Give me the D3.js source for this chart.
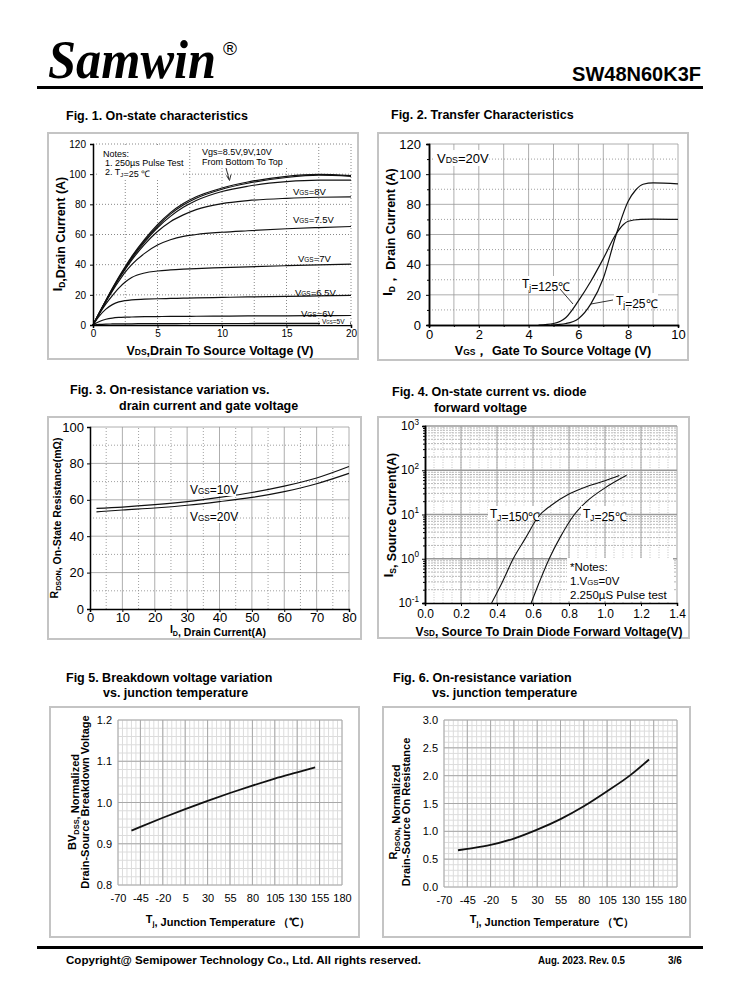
<!DOCTYPE html>
<html>
<head>
    <script src="https://cdnjs.cloudflare.com/ajax/libs/d3/7.8.5/d3.min.js"></script>
    <style>
        body, html { margin: 0; padding: 0; background: #fff; }
        svg { display: block; font-family: "Liberation Sans", Arial, sans-serif; }
    </style>
</head>
<body>
<svg id="page" width="738" height="1000"></svg>
<script>
// ---- data ----
// Fig 1: Vds (V) vs Id (A), one array per gate voltage
const fig1Vds = [0, 0.5, 1, 1.5, 2, 2.5, 3, 4, 5, 6, 7, 8, 10, 12, 15, 17.5, 20];
const fig1Vgs5   = [0, 0.4, 0.6, 0.7, 0.8, 0.8, 0.8, 0.9, 0.9, 0.9, 1, 1, 1, 1, 1.1, 1.1, 1.2];
const fig1Vgs6   = [0, 2.3, 3.8, 4.6, 5.0, 5.2, 5.3, 5.5, 5.6, 5.7, 5.7, 5.8, 5.9, 6.0, 6.1, 6.2, 6.3];
const fig1Vgs65  = [0, 6, 10.5, 13.5, 15.3, 16.2, 16.7, 17.1, 17.4, 17.6, 17.8, 18.0, 18.3, 18.6, 19.0, 19.3, 19.6];
const fig1Vgs7   = [0, 7.5, 14, 19.5, 24.5, 28.5, 31.5, 34.5, 35.8, 36.5, 37, 37.4, 38, 38.6, 39.3, 39.8, 40.3];
const fig1Vgs75  = [0, 8, 15.5, 22.5, 29, 35, 40, 47.5, 53, 56.5, 58.8, 60, 61.5, 62.5, 63.8, 64.6, 65.3];
const fig1Vgs8   = [0, 8, 15.8, 23.3, 30.5, 37, 43, 53.5, 62, 68.5, 73, 76.5, 80.5, 82.5, 84, 84.7, 85];
const fig1Vgs85  = [0, 8.2, 16, 23.5, 30.8, 37.5, 44, 55, 64.5, 72, 78, 82.5, 88.5, 92, 95, 96, 96];
const fig1Vgs9   = [0, 8.2, 16.2, 24, 31.3, 38.2, 44.8, 56, 65.5, 73.5, 79.5, 84, 90, 94, 97.8, 99.3, 98.6];
const fig1Vgs10  = [0, 8.3, 16.4, 24.3, 31.8, 38.8, 45.4, 56.8, 66.5, 74.5, 80.5, 85, 90.8, 94.8, 98.6, 99.8, 99.0];
const fig1Labels = ["=8V", "=7.5V", "=7V", "=6.5V", "=6V", "=5V"];

// Fig 2: Vgs (V) vs Id (A)
const fig2Vgs125 = [4.4, 5, 5.5, 6, 6.5, 7, 7.5, 7.8, 8, 8.5, 9, 10];
const fig2Id125  = [0, 1, 5, 16, 29, 44, 60, 66.5, 68.8, 70, 70.2, 70];
const fig2Vgs25  = [4.9, 5.5, 6, 6.5, 7, 7.5, 8, 8.3, 8.6, 9, 10];
const fig2Id25   = [0, 1, 4.2, 14, 31, 59, 82, 89.5, 93.3, 94.2, 93.6];

// Fig 3: Id (A) vs Rds(on) (mOhm)
const fig3Id     = [2, 10, 20, 30, 40, 50, 60, 70, 80];
const fig3Vgs10  = [55.3, 56, 57.3, 59, 61.3, 64, 67.5, 72, 78.3];
const fig3Vgs20  = [53.4, 54.4, 55.5, 57, 59, 61.3, 64.5, 68.8, 74.5];

// Fig 4: Vsd (V) vs Is (A), log scale
const fig4Vsd150 = [0.37, 0.43, 0.49, 0.56, 0.63, 0.7, 0.8, 0.9, 1.0, 1.08];
const fig4Is150  = [0.1, 0.3, 1, 3, 9, 16, 29, 43, 58, 76];
const fig4Vsd25  = [0.59, 0.64, 0.69, 0.75, 0.83, 0.9, 1.0, 1.12];
const fig4Is25   = [0.1, 0.33, 1, 3, 10, 20, 40, 77];
const fig4YTicks = [-1, 0, 1, 2, 3];

// Fig 5 & 6: junction temperature (C)
const tjTicks    = [-70, -45, -20, 5, 30, 55, 80, 105, 130, 155, 180];
const fig5Tj     = [-55, -45, -20, 5, 30, 55, 80, 105, 130, 150];
const fig5Bv     = [0.932, 0.941, 0.963, 0.984, 1.004, 1.023, 1.041, 1.058, 1.073, 1.085];
const fig6Tj     = [-55, -45, -20, 5, 30, 55, 80, 105, 130, 150];
const fig6Rds    = [0.66, 0.685, 0.755, 0.87, 1.03, 1.22, 1.45, 1.72, 2.01, 2.29];

// ---- page ----
const svg = d3.select("#page");
const FONT = "'Liberation Sans', Arial, sans-serif";

// write text made of parts: [text, kind] kind: null | "sc" (small) | "sub" | "sup"
function rich(sel, parts, size) {
    parts.forEach(p => {
        const t = sel.append("tspan").text(p[0]);
        if (p[1] === "sc") t.attr("font-size", size * 0.68);
        if (p[1] === "sub") t.attr("font-size", size * 0.68).attr("dy", size * 0.25);
        if (p[1] === "sup") t.attr("font-size", size * 0.68).attr("dy", -size * 0.45);
        // reset baseline after shifted piece
        if (p[1] === "sub") sel.append("tspan").attr("dy", -size * 0.25).text("");
        if (p[1] === "sup") sel.append("tspan").attr("dy", size * 0.45).text("");
    });
    return sel;
}

function txt(x, y, parts, size, opts = {}) {
    const t = svg.append("text")
        .attr("x", x).attr("y", y)
        .attr("font-size", size)
        .attr("font-family", FONT)
        .attr("text-anchor", opts.anchor || "start")
        .attr("font-weight", opts.bold ? "bold" : "normal");
    if (opts.rotate) t.attr("transform", `rotate(-90,${x},${y})`);
    if (typeof parts === "string") t.text(parts); else rich(t, parts, size);
    return t;
}

function frame(x, y, w, h) {
    svg.append("rect").attr("x", x).attr("y", y).attr("width", w).attr("height", h)
        .attr("fill", "none").attr("stroke", "#c4c4c4").attr("stroke-width", 2);
}

function gridV(xs, values, y0, y1, color, dash, width) {
    svg.append("g").selectAll("line").data(values).join("line")
        .attr("x1", d => xs(d)).attr("x2", d => xs(d))
        .attr("y1", y0).attr("y2", y1)
        .attr("stroke", color).attr("stroke-width", width || 1)
        .attr("stroke-dasharray", dash || null);
}
function gridH(ys, values, x0, x1, color, dash, width) {
    svg.append("g").selectAll("line").data(values).join("line")
        .attr("y1", d => ys(d)).attr("y2", d => ys(d))
        .attr("x1", x0).attr("x2", x1)
        .attr("stroke", color).attr("stroke-width", width || 1)
        .attr("stroke-dasharray", dash || null);
}

function curve(xs, ys, xv, yv, width) {
    const pts = xv.map((v, i) => [v, yv[i]]);
    svg.append("path").datum(pts)
        .attr("fill", "none").attr("stroke", "#111").attr("stroke-width", width || 1.3)
        .attr("d", d3.line().x(d => xs(d[0])).y(d => ys(d[1])).curve(d3.curveMonotoneX));
}

function axisStyle(g, size) {
    g.selectAll("text").attr("font-size", size).attr("font-family", FONT).attr("fill", "#000");
    g.selectAll("line").attr("stroke", "#000");
    g.select(".domain").attr("stroke", "#000").attr("stroke-width", 1.5);
}

function whiteBox(x, y, w, h) {
    svg.append("rect").attr("x", x).attr("y", y).attr("width", w).attr("height", h).attr("fill", "#fff");
}

// ---- header ----
svg.append("text").attr("x", 48).attr("y", 78)
    .attr("font-family", "'Liberation Serif', 'Times New Roman', serif")
    .attr("font-weight", "bold").attr("font-style", "italic")
    .attr("font-size", 54).attr("textLength", 168).attr("lengthAdjust", "spacingAndGlyphs")
    .text("Samwin");
txt(223, 55, "®", 19, {});
txt(701, 81, "SW48N60K3F", 20, { anchor: "end", bold: true });
svg.append("rect").attr("x", 37).attr("y", 86).attr("width", 666).attr("height", 3).attr("fill", "#000");

// ---- Fig 1 ----
{
    frame(48, 133, 310, 226);
    const x = d3.scaleLinear().domain([0, 20]).range([93, 351]);
    const y = d3.scaleLinear().domain([0, 120]).range([325, 144]);
    gridV(x, d3.range(2.5, 20.1, 2.5), y(0), y(120), "#888", "1,2");
    gridH(y, d3.range(20, 121, 20), x(0), x(20), "#888", "1,2");
    whiteBox(99, 147, 82, 33);
    whiteBox(199, 146, 92, 22);
    [fig1Vgs5, fig1Vgs6, fig1Vgs65, fig1Vgs7, fig1Vgs75, fig1Vgs8, fig1Vgs85, fig1Vgs9, fig1Vgs10]
        .forEach(s => curve(x, y, fig1Vds, s, 1.2));
    const gy = svg.append("g").attr("transform", `translate(${x(0)},0)`)
        .call(d3.axisLeft(y).tickValues(d3.range(0, 121, 20)).tickSize(3).tickPadding(4));
    axisStyle(gy, 10);
    const gx = svg.append("g").attr("transform", `translate(0,${y(0)})`)
        .call(d3.axisBottom(x).tickValues(d3.range(0, 21, 5)).tickSize(3).tickPadding(2));
    axisStyle(gx, 10);
    txt(66, 120, "Fig. 1. On-state characteristics", 12.5, { bold: true });
    txt(103, 157, "Notes:", 9);
    txt(105, 166, "1. 250\u00b5s  Pulse Test", 9);
    txt(105, 175, [["2. T"], ["J", "sub"], ["=25 \u2103"]], 9);
    txt(202, 155, "Vgs=8.5V,9V,10V", 9);
    txt(202, 165, "From Bottom To Top", 9);
    svg.append("line").attr("x1", 226).attr("y1", 168).attr("x2", 229).attr("y2", 179)
        .attr("stroke", "#000").attr("stroke-width", 0.8);
    svg.append("path").attr("d", "M226.5,175.5 L229.5,180.5 L231,174.5").attr("fill", "none")
        .attr("stroke", "#000").attr("stroke-width", 0.8);
    const lblPos = [[293, 195], [293, 223], [298, 262], [295, 296], [301, 317], [322, 324]];
    fig1Labels.forEach((l, i) => {
        const sz = i === 5 ? 6.5 : 9.5;
        if (i === 5) whiteBox(320, 317, 30, 8);
        txt(lblPos[i][0], lblPos[i][1], [["V"], ["GS", "sc"], [l]], sz);
    });
    txt(62, 234, [["I"], ["D", "sub"], [",Drain Current (A)"]], 12.5, { bold: true, rotate: true, anchor: "middle" });
    txt(220, 355, [["V"], ["DS", "sc"], [",Drain To Source Voltage (V)"]], 12.5, { bold: true, anchor: "middle" });
}

// ---- Fig 2 ----
{
    frame(378, 133, 310, 227);
    const x = d3.scaleLinear().domain([0, 10]).range([429, 678]);
    const y = d3.scaleLinear().domain([0, 120]).range([325, 144]);
    gridV(x, d3.range(1, 10.1, 1), y(0), y(120), "#999", null, 0.8);
    gridH(y, d3.range(20, 121, 20), x(0), x(10), "#999", null, 0.8);
    gridH(y, d3.range(10, 120, 20), x(0), x(10), "#888", "1,2", 0.8);
    whiteBox(433, 150, 56, 16);
    curve(x, y, fig2Vgs125, fig2Id125, 1.2);
    curve(x, y, fig2Vgs25, fig2Id25, 1.2);
    const gy = svg.append("g").attr("transform", `translate(${x(0)},0)`)
        .call(d3.axisLeft(y).tickValues(d3.range(0, 121, 20)).tickSize(3).tickPadding(5));
    axisStyle(gy, 13);
    svg.append("g").attr("transform", `translate(${x(0)},0)`)
        .call(d3.axisLeft(y).tickValues(d3.range(10, 120, 20)).tickSize(2).tickFormat(""))
        .call(g => axisStyle(g, 13));
    const gx = svg.append("g").attr("transform", `translate(0,${y(0)})`)
        .call(d3.axisBottom(x).tickValues(d3.range(0, 11, 2)).tickSize(3).tickPadding(2));
    axisStyle(gx, 13);
    svg.append("g").attr("transform", `translate(0,${y(0)})`)
        .call(d3.axisBottom(x).tickValues(d3.range(1, 10, 2)).tickSize(2).tickFormat(""))
        .call(g => axisStyle(g, 13));
    txt(391, 119, "Fig. 2. Transfer Characteristics", 12.5, { bold: true });
    txt(437, 163, [["V"], ["DS", "sc"], ["=20V"]], 13);
    whiteBox(520, 276, 50, 14);
    txt(522, 288, [["T"], ["j", "sub"], ["=125\u2103"]], 12);
    svg.append("line").attr("x1", 560).attr("y1", 289).attr("x2", 573).attr("y2", 304).attr("stroke", "#000").attr("stroke-width", 0.8);
    whiteBox(614, 293, 44, 14);
    txt(616, 305, [["T"], ["j", "sub"], ["=25\u2103"]], 12);
    svg.append("line").attr("x1", 613).attr("y1", 300).attr("x2", 591).attr("y2", 304).attr("stroke", "#000").attr("stroke-width", 0.8);
    txt(392, 232, [["I"], ["D", "sub"], ["\uff0c Drain Current (A)"]], 12.5, { bold: true, rotate: true, anchor: "middle" });
    txt(553, 355, [["V"], ["GS", "sc"], ["\uff0c Gate To Source Voltage (V)"]], 12.5, { bold: true, anchor: "middle" });
}

// ---- Fig 3 ----
{
    frame(48, 417, 313, 222);
    const x = d3.scaleLinear().domain([0, 80]).range([90, 349]);
    const y = d3.scaleLinear().domain([0, 100]).range([609, 427]);
    gridV(x, d3.range(10, 81, 10), y(0), y(100), "#999", null, 0.8);
    gridV(x, d3.range(5, 80, 10), y(0), y(100), "#888", "1,2", 0.8);
    gridH(y, d3.range(20, 101, 20), x(0), x(80), "#999", null, 0.8);
    gridH(y, d3.range(10, 100, 20), x(0), x(80), "#888", "1,2", 0.8);
    curve(x, y, fig3Id, fig3Vgs10, 1.2);
    curve(x, y, fig3Id, fig3Vgs20, 1.2);
    const gy = svg.append("g").attr("transform", `translate(${x(0)},0)`)
        .call(d3.axisLeft(y).tickValues(d3.range(0, 101, 20)).tickSize(3).tickPadding(3));
    axisStyle(gy, 13);
    const gx = svg.append("g").attr("transform", `translate(0,${y(0)})`)
        .call(d3.axisBottom(x).tickValues(d3.range(0, 81, 10)).tickSize(3).tickPadding(1));
    axisStyle(gx, 13);
    txt(70, 394, "Fig. 3. On-resistance variation vs.", 12.5, { bold: true });
    txt(119, 410, "drain current and gate voltage", 12.5, { bold: true });
    whiteBox(188, 483, 48, 13);
    txt(190, 494, [["V"], ["GS", "sc"], ["=10V"]], 12);
    whiteBox(188, 510, 48, 13);
    txt(190, 521, [["V"], ["GS", "sc"], ["=20V"]], 12);
    txt(58, 518, [["R"], ["DSON", "sub"], [", On-State Resistance(m\u03a9)"]], 10.5, { bold: true, rotate: true, anchor: "middle" });
    txt(218, 633, [["I"], ["D", "sub"], [", Drain Current(A)"]], 10.5, { bold: true, anchor: "middle" });
}

// ---- Fig 4 ----
{
    frame(378, 417, 311, 221);
    const x = d3.scaleLinear().domain([0, 1.4]).range([425, 677]);
    const y = d3.scaleLog().domain([0.1, 1000]).range([603, 426]);
    const minors = [];
    fig4YTicks.slice(0, -1).forEach(e => d3.range(2, 10).forEach(m => minors.push(m * Math.pow(10, e))));
    gridH(y, minors, x(0), x(1.4), "#999", "2,1", 0.7);
    gridV(x, d3.range(0.05, 1.4, 0.05), y(0.1), y(1000), "#aaa", "1,1.5", 0.7);
    gridV(x, d3.range(0.2, 1.41, 0.2), y(0.1), y(1000), "#999", null, 0.9);
    gridH(y, fig4YTicks.slice(1).map(e => Math.pow(10, e)), x(0), x(1.4), "#999", null, 1.5);
    curve(x, y, fig4Vsd150, fig4Is150, 1.1);
    curve(x, y, fig4Vsd25, fig4Is25, 1.1);
    const gy = svg.append("g").attr("transform", `translate(${x(0)},0)`)
        .call(d3.axisLeft(y).tickValues(fig4YTicks.map(e => Math.pow(10, e))).tickSize(3).tickFormat(""));
    axisStyle(gy, 12);
    svg.append("g").attr("transform", `translate(${x(0)},0)`)
        .call(d3.axisLeft(y).tickValues(minors).tickSize(2).tickFormat(""))
        .call(g => axisStyle(g, 12));
    fig4YTicks.forEach(e => {
        txt(x(0) - 6, y(Math.pow(10, e)) + 4, [["10"], [String(e), "sup"]], 12, { anchor: "end" });
    });
    const gx = svg.append("g").attr("transform", `translate(0,${y(0.1)})`)
        .call(d3.axisBottom(x).tickValues(d3.range(0, 1.41, 0.2)).tickSize(3).tickPadding(3).tickFormat(d3.format(".1f")));
    axisStyle(gx, 12);
    txt(392, 396, "Fig. 4. On-state current vs. diode", 12.5, { bold: true });
    txt(434, 412, "forward voltage", 12.5, { bold: true });
    whiteBox(488, 506, 50, 14);
    txt(490, 518, [["T"], ["J", "sub"], ["=150\u2103"]], 12);
    whiteBox(581, 506, 44, 14);
    txt(583, 518, [["T"], ["J", "sub"], ["=25\u2103"]], 12);
    whiteBox(567, 558, 106, 43);
    txt(570, 571, "*Notes:", 11.5);
    txt(570, 585, [["1.V"], ["GS", "sc"], ["=0V"]], 11.5);
    txt(570, 599, "2.250\u00b5S Pulse test", 11.5);
    txt(393, 515, [["I"], ["S", "sub"], [", Source Current(A)"]], 12.5, { bold: true, rotate: true, anchor: "middle" });
    txt(549, 636, [["V"], ["SD", "sc"], [", Source To Drain Diode Forward Voltage(V)"]], 12, { bold: true, anchor: "middle" });
}

// ---- Fig 5 & 6 (fine grid charts) ----
function tempChart(fx, fy, fw, fh, x0, x1, y0, y1, yDom, yMinor, yMajor, yFmt, xv, yv) {
    frame(fx, fy, fw, fh);
    const x = d3.scaleLinear().domain([-70, 180]).range([x0, x1]);
    const y = d3.scaleLinear().domain(yDom).range([y0, y1]);
    gridV(x, d3.range(-70, 180.1, 5), y0, y1, "#dcdcdc", null, 1);
    gridH(y, d3.range(yDom[0], yDom[1] + 1e-9, yMinor), x0, x1, "#dcdcdc", null, 1);
    gridV(x, tjTicks, y0, y1, "#a8a8a8", null, 1);
    gridH(y, d3.range(yDom[0], yDom[1] + 1e-9, yMajor), x0, x1, "#a8a8a8", null, 1);
    curve(x, y, xv, yv, 1.8);
    const gy = svg.append("g").attr("transform", `translate(${x0},0)`)
        .call(d3.axisLeft(y).tickValues(d3.range(yDom[0], yDom[1] + 1e-9, yMajor)).tickSize(0).tickPadding(6).tickFormat(d3.format(yFmt)));
    axisStyle(gy, 11);
    gy.select(".domain").remove();
    const gx = svg.append("g").attr("transform", `translate(0,${y0})`)
        .call(d3.axisBottom(x).tickValues(tjTicks).tickSize(0).tickPadding(9));
    axisStyle(gx, 11);
    gx.select(".domain").remove();
    gx.selectAll("text").text(d => String(d));
}

tempChart(50, 707, 309, 230, 118, 342, 885, 720, [0.8, 1.2], 0.02, 0.1, ".1f", fig5Tj, fig5Bv);
txt(66, 682, "Fig 5. Breakdown voltage variation", 12.5, { bold: true });
txt(103, 697, "vs. junction temperature", 12.5, { bold: true });
txt(76, 802, [["BV"], ["DSS", "sub"], [", Normalized"]], 11, { bold: true, rotate: true, anchor: "middle" });
txt(89, 802, "Drain-Source Breakdown Voltage", 11, { bold: true, rotate: true, anchor: "middle" });
txt(228, 923, [["T"], ["j", "sub"], [", Junction Temperature \uff08\u2103\uff09"]], 11, { bold: true, anchor: "middle" });

tempChart(383, 707, 307, 230, 444, 677, 887, 720, [0, 3.0], 0.1, 0.5, ".1f", fig6Tj, fig6Rds);
txt(393, 682, "Fig. 6. On-resistance variation", 12.5, { bold: true });
txt(432, 697, "vs. junction temperature", 12.5, { bold: true });
txt(397, 812, [["R"], ["DSON", "sub"], [", Normalized"]], 11, { bold: true, rotate: true, anchor: "middle" });
txt(410, 812, "Drain-Source On Resistance", 11, { bold: true, rotate: true, anchor: "middle" });
txt(552, 923, [["T"], ["j", "sub"], [", Junction Temperature \uff08\u2103\uff09"]], 11, { bold: true, anchor: "middle" });

// ---- footer ----
svg.append("rect").attr("x", 37).attr("y", 946).attr("width", 666).attr("height", 3).attr("fill", "#000");
txt(66, 964, "Copyright@ Semipower Technology Co., Ltd. All rights reserved.", 11.5, { bold: true })
    .attr("textLength", 355).attr("lengthAdjust", "spacingAndGlyphs");
txt(538, 964, "Aug. 2023. Rev. 0.5", 10, { bold: true })
    .attr("textLength", 87).attr("lengthAdjust", "spacingAndGlyphs");
txt(668, 964, "3/6", 10, { bold: true });
</script>
</body>
</html>
